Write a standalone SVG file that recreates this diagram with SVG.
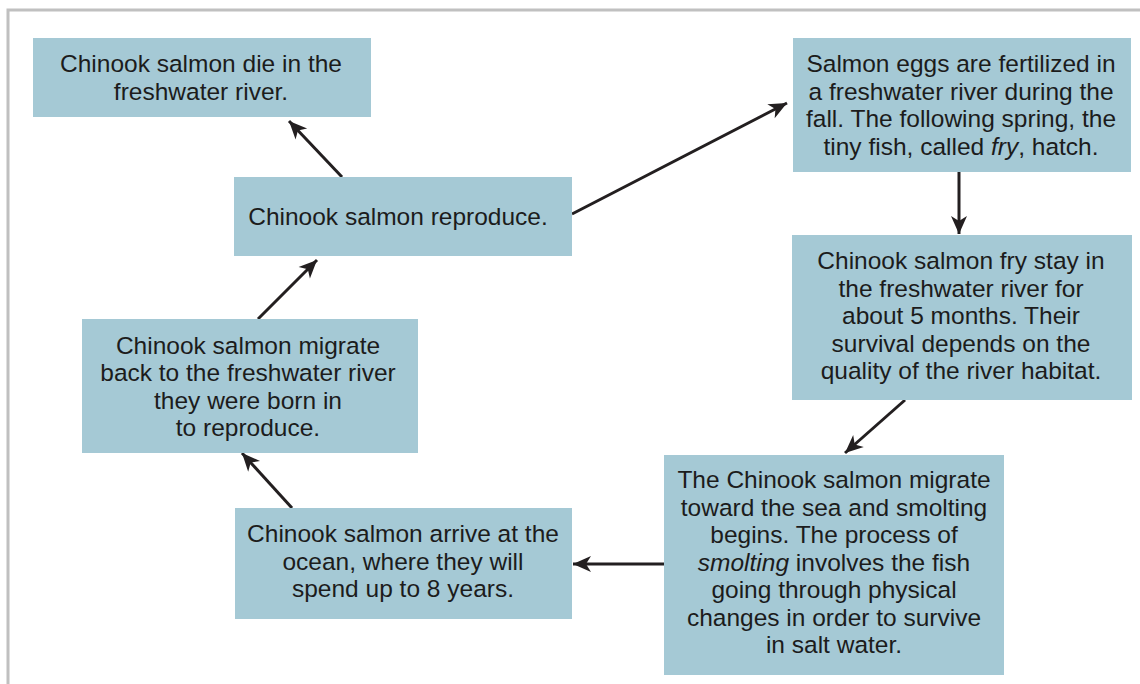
<svg xmlns="http://www.w3.org/2000/svg" width="1140" height="684" viewBox="0 0 1140 684">
<style>
.box{fill:#a5c9d5;}
.t{font-family:"Liberation Sans","Arial",sans-serif;font-size:24.5px;fill:#1c1c1c;text-anchor:middle;}
.c{stroke:#231f20;stroke-width:3;fill:none;marker-end:url(#ah);}
</style>
<defs>
<marker id="ah" markerUnits="userSpaceOnUse" viewBox="-19 -9 21 18" refX="0" refY="0" markerWidth="21" markerHeight="18" orient="auto">
<path d="M0,0 L-18,-8 L-13,0 L-18,8 Z" fill="#231f20"/>
</marker>
</defs>
<rect width="1140" height="684" fill="#fff"/>
<path d="M8,684 L8,10 L1140,10" fill="none" stroke="#c0c0c0" stroke-width="3"/>
<g id="connectors">
<line class="c" x1="342" y1="177" x2="289" y2="121"/>
<line class="c" x1="572" y1="214" x2="787" y2="103"/>
<line class="c" x1="959" y1="172" x2="959" y2="234"/>
<line class="c" x1="905" y1="400" x2="845" y2="453"/>
<line class="c" x1="664" y1="564" x2="573" y2="564"/>
<line class="c" x1="292" y1="508" x2="242" y2="453"/>
<line class="c" x1="258" y1="319" x2="317" y2="260"/>
</g>
<g id="n-die">
<rect class="box" x="33" y="38" width="338" height="79"/>
<text class="t" y="72"><tspan x="201">Chinook salmon die in the</tspan><tspan x="201" dy="27.5">freshwater river.</tspan></text>
</g>
<g id="n-eggs">
<rect class="box" x="793" y="38" width="338" height="134"/>
<text class="t" y="72"><tspan x="961">Salmon eggs are fertilized in</tspan><tspan x="961" dy="27.5">a freshwater river during the</tspan><tspan x="961" dy="27.5">fall. The following spring, the</tspan><tspan x="961" dy="27.5">tiny fish, called <tspan font-style="italic">fry</tspan>, hatch.</tspan></text>
</g>
<g id="n-fry">
<rect class="box" x="792" y="235" width="340" height="165"/>
<text class="t" y="269"><tspan x="961">Chinook salmon fry stay in</tspan><tspan x="961" dy="27.5">the freshwater river for</tspan><tspan x="961" dy="27.5">about 5 months. Their</tspan><tspan x="961" dy="27.5">survival depends on the</tspan><tspan x="961" dy="27.5">quality of the river habitat.</tspan></text>
</g>
<g id="n-smolt">
<rect class="box" x="664" y="455" width="340" height="220"/>
<text class="t" y="488"><tspan x="834">The Chinook salmon migrate</tspan><tspan x="834" dy="27.5">toward the sea and smolting</tspan><tspan x="834" dy="27.5">begins. The process of</tspan><tspan x="834" dy="27.5"><tspan font-style="italic">smolting</tspan> involves the fish</tspan><tspan x="834" dy="27.5">going through physical</tspan><tspan x="834" dy="27.5">changes in order to survive</tspan><tspan x="834" dy="27.5">in salt water.</tspan></text>
</g>
<g id="n-ocean">
<rect class="box" x="235" y="508" width="337" height="111"/>
<text class="t" y="542"><tspan x="403">Chinook salmon arrive at the</tspan><tspan x="403" dy="27.5">ocean, where they will</tspan><tspan x="403" dy="27.5">spend up to 8 years.</tspan></text>
</g>
<g id="n-back">
<rect class="box" x="82" y="319" width="336" height="134"/>
<text class="t" y="353.5"><tspan x="248">Chinook salmon migrate</tspan><tspan x="248" dy="27.5">back to the freshwater river</tspan><tspan x="248" dy="27.5">they were born in</tspan><tspan x="248" dy="27.5">to reproduce.</tspan></text>
</g>
<g id="n-repro">
<rect class="box" x="234" y="177" width="338" height="79"/>
<text class="t" x="398" y="225">Chinook salmon reproduce.</text>
</g>
</svg>
